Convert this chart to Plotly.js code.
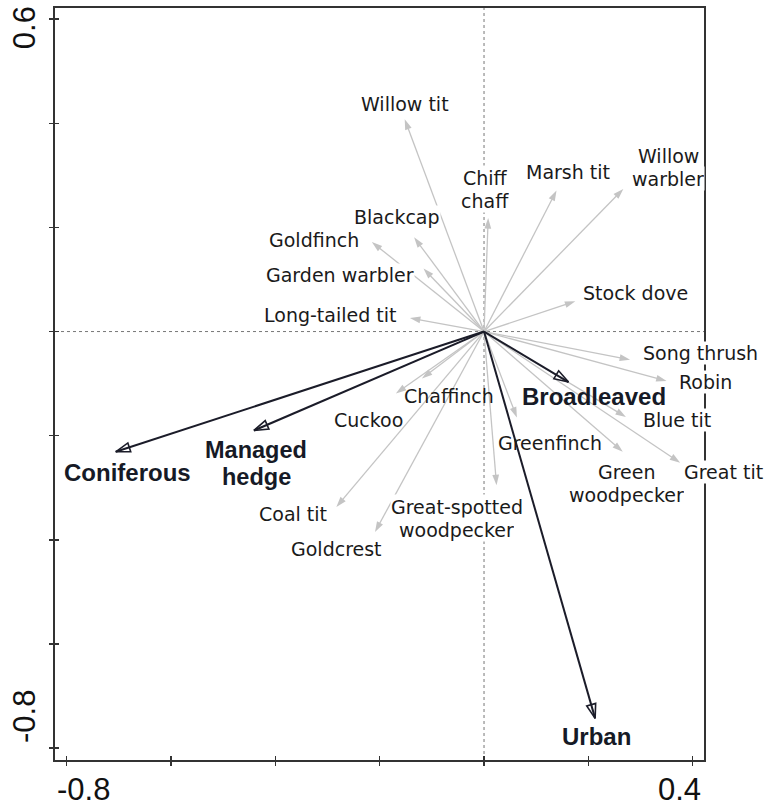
<!DOCTYPE html>
<html><head><meta charset="utf-8">
<script src="https://cdn.plot.ly/plotly-3.0.1.min.js"></script>
<style>html,body{margin:0;padding:0;background:#fff}#chart{width:767px;height:805px}</style>
</head><body><div id="chart"></div>
<script>
// ---- data (ordination scores) ----
const species = ["Willow tit","Chiff\nchaff","Marsh tit","Willow\nwarbler","Blackcap","Goldfinch","Garden warbler","Long-tailed tit","Stock dove","Song thrush","Robin","Blue tit","Great tit","Green\nwoodpecker","Greenfinch","Great-spotted\nwoodpecker","Goldcrest","Coal tit","Cuckoo","Chaffinch"];
const speciesAxis1 = [-0.152,0.008,0.139,0.267,-0.134,-0.215,-0.116,-0.142,0.175,0.280,0.350,0.272,0.376,0.266,0.063,0.024,-0.209,-0.283,-0.169,-0.119];
const speciesAxis2 = [0.408,0.218,0.271,0.274,0.181,0.172,0.121,0.026,0.058,-0.054,-0.095,-0.164,-0.252,-0.231,-0.165,-0.295,-0.385,-0.337,-0.119,-0.090];
const habitats = ["Coniferous","Managed\nhedge","Broadleaved","Urban"];
const habitatAxis1 = [-0.706,-0.441,0.162,0.213];
const habitatAxis2 = [-0.231,-0.190,-0.097,-0.743];
const xTickValues = [-0.8,-0.6,-0.4,-0.2,0,0.2,0.4];
const yTickValues = [0.6,0.4,0.2,0,-0.2,-0.4,-0.6,-0.8];
const xTickLabels = ["-0.8","0.4"];
const yTickLabels = ["0.6","-0.8"];

// ---- label placement (layout only) ----
const speciesLabelPos = [
  [-0.152,0.437,"center"],[0.002,0.274,"center"],[0.161,0.306,"center"],[0.353,0.317,"center"],
  [-0.167,0.220,"center"],[-0.326,0.176,"center"],[-0.276,0.108,"center"],[-0.295,0.031,"center"],
  [0.290,0.075,"center"],[0.3025,-0.042,"left"],[0.372,-0.097,"left"],[0.370,-0.169,"center"],
  [0.381,-0.2695,"left"],[0.274,-0.291,"center"],[0.127,-0.214,"center"],[-0.052,-0.358,"center"],
  [-0.283,-0.418,"center"],[-0.367,-0.351,"center"],[-0.222,-0.169,"center"],[-0.068,-0.124,"center"]
];
const habitatLabelPos = [[-0.684,-0.271],[-0.437,-0.253],[0.210,-0.124],[0.216,-0.778]];
const transparentLabels = ["Greenfinch","Chaffinch","Broadleaved","Cuckoo","Managed hedge"];

const grey = "#c4c4c4", dark = "#1b1c29";
const traces = [];
species.forEach((s,i)=>{
  traces.push({x:[0,speciesAxis1[i]], y:[0,speciesAxis2[i]], type:"scatter", mode:"lines+markers",
    line:{color:grey,width:1.3}, marker:{symbol:"arrow",size:11,angleref:"previous",color:grey},
    hoverinfo:"skip", showlegend:false, cliponaxis:false});
});
habitats.forEach((h,i)=>{
  traces.push({x:[0,habitatAxis1[i]], y:[0,habitatAxis2[i]], type:"scatter", mode:"lines+markers",
    line:{color:dark,width:2}, marker:{symbol:"arrow-open",size:15,angleref:"previous",color:dark,line:{color:dark,width:1.6}},
    hoverinfo:"skip", showlegend:false, cliponaxis:false});
});
// invisible trace for overlay axes (crossing tick marks)
traces.push({x:[0],y:[0],xaxis:"x2",yaxis:"y2",mode:"markers",marker:{opacity:0},hoverinfo:"skip",showlegend:false});

const annotations = [];
function addLabel(text,x,y,anchor,font,gap,bg){
  const lines = text.split("\n");
  lines.forEach((ln,k)=>{
    const a = {x:x,y:y,xref:"x",yref:"y",text:ln,showarrow:false,xanchor:anchor,yanchor:"middle",
      yshift:((lines.length-1)/2-k)*gap, font:font, bgcolor:bg, borderpad:0};
    if(lines.length>1){ a.height = gap; a.valign = "middle"; }
    annotations.push(a);
  });
}
const spFont = {family:"DejaVu Sans, Verdana, sans-serif", size:19, color:"#1a1a1a"};
const hbFont = {family:"Liberation Sans, Arial, sans-serif", size:24, color:"#161a26", weight:700};
const hbFont2 = {family:"Liberation Sans, Arial, sans-serif", size:23.5, color:"#161a26", weight:700};
species.forEach((s,i)=>{
  const p = speciesLabelPos[i];
  const plain = s.replace("\n"," ");
  addLabel(s,p[0],p[1],p[2],spFont,23, transparentLabels.includes(plain)?"rgba(0,0,0,0)":"#ffffff");
});
habitats.forEach((h,i)=>{
  const p = habitatLabelPos[i];
  const plain = h.replace("\n"," ");
  const multi = h.indexOf("\n")>=0;
  addLabel(h,p[0],p[1],"center",multi?hbFont2:hbFont,27, transparentLabels.includes(plain)?"rgba(0,0,0,0)":"#ffffff");
});
// axis end labels
const tickFont = {family:"Liberation Sans, Arial, sans-serif", size:31, color:"#111"};
annotations.push({x:xTickValues[0],y:0,xref:"x",yref:"paper",text:xTickLabels[0],showarrow:false,xanchor:"center",yanchor:"middle",xshift:17,yshift:-29,height:30,valign:"middle",font:tickFont});
annotations.push({x:xTickValues[xTickValues.length-1],y:0,xref:"x",yref:"paper",text:xTickLabels[1],showarrow:false,xanchor:"center",yanchor:"middle",xshift:-13,yshift:-29,height:30,valign:"middle",font:tickFont});
annotations.push({x:0,y:yTickValues[0],xref:"paper",yref:"y",text:yTickLabels[0],showarrow:false,textangle:-90,xanchor:"center",yanchor:"middle",xshift:-31,yshift:-9,font:tickFont});
annotations.push({x:0,y:yTickValues[yTickValues.length-1],xref:"paper",yref:"y",text:yTickLabels[1],showarrow:false,textangle:-90,xanchor:"center",yanchor:"middle",xshift:-31,yshift:31,font:tickFont});

const xr = [-0.8224,0.4217], yr = [-0.823,0.6215];
const axCommon = {showgrid:false, zeroline:false, showticklabels:false, fixedrange:true, tickcolor:"#333", tickwidth:1.5, ticklen:4};
const layout = {
  width:767, height:805, margin:{l:55,r:63,t:8,b:45},
  paper_bgcolor:"#fff", plot_bgcolor:"#fff", showlegend:false,
  xaxis:Object.assign({}, axCommon, {range:xr, tickvals:xTickValues, ticks:"outside", showline:true, linecolor:"#333", linewidth:2, mirror:true}),
  yaxis:Object.assign({}, axCommon, {range:yr, tickvals:yTickValues, ticks:"outside", showline:true, linecolor:"#333", linewidth:2, mirror:true}),
  xaxis2:Object.assign({}, axCommon, {range:xr, tickvals:xTickValues, ticks:"inside", overlaying:"x", anchor:"y2", showline:false}),
  yaxis2:Object.assign({}, axCommon, {range:yr, tickvals:yTickValues, ticks:"inside", overlaying:"y", anchor:"x2", showline:false}),
  shapes:[
    {type:"line",xref:"x",yref:"paper",x0:0,x1:0,y0:0,y1:1,line:{color:"#777",width:1,dash:"dot"},layer:"below"},
    {type:"line",xref:"paper",yref:"y",x0:0,x1:1,y0:0,y1:0,line:{color:"#777",width:1,dash:"dot"},layer:"below"}
  ],
  annotations:annotations
};
Plotly.newPlot("chart", traces, layout, {displayModeBar:false, staticPlot:true});
</script></body></html>
